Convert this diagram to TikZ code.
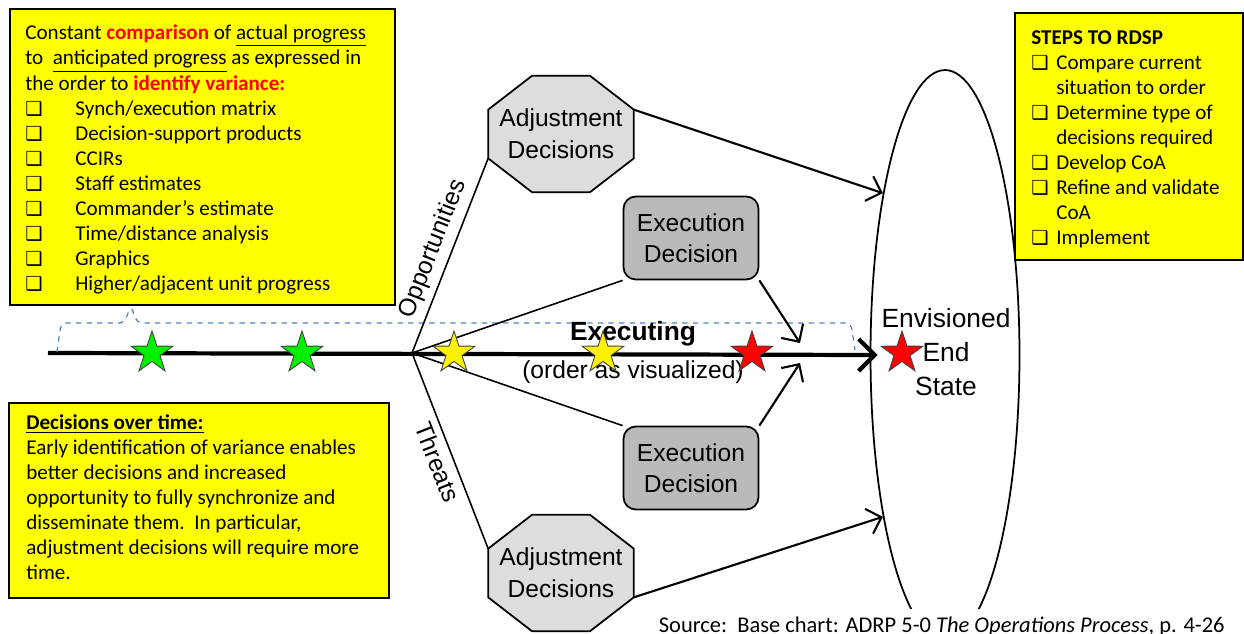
\documentclass[tikz,border=0pt]{standalone}
\usepackage{fontspec}
\setmainfont{Liberation Sans}
\newfontfamily\calibri{Carlito}
\newfontfamily\dingfont{DejaVu Sans}
\usepackage{xcolor}
\usetikzlibrary{shapes.geometric,arrows.meta,positioning,calc,backgrounds}

\definecolor{noteyellow}{RGB}{255,255,0}
\definecolor{bracketblue}{RGB}{79,129,189}
\definecolor{adjgray}{RGB}{221,221,221}
\definecolor{execgray}{RGB}{186,186,186}
\definecolor{stargreen}{RGB}{0,240,0}

% check boxes for the yellow notes
\newcommand{\chkbox}{{\dingfont\fontsize{11}{11}\selectfont ❑}}
\newcommand{\listitem}[1]{\makebox[1cm][l]{\chkbox}#1}
\newcommand{\stepitem}[1]{\makebox[0.5cm][l]{\chkbox}#1}

\begin{document}
\begin{tikzpicture}[x=0.02cm,y=-0.02cm,
  notebox/.style={draw,line width=1.4pt,fill=noteyellow,inner sep=0pt},
  notetext/.style={font=\calibri\fontsize{12}{14.3}\selectfont,align=left,inner sep=0pt,anchor=base west},
  adjnode/.style={minimum width=2.9cm,minimum height=2.32cm,inner sep=0pt,align=center,font=\fontsize{14}{18}\selectfont},
  execnode/.style={draw,line width=1pt,fill=execgray,rounded corners=7pt,minimum width=2.7cm,minimum height=1.66cm,inner sep=0pt,align=center,font=\fontsize{14}{17.6}\selectfont},
  endnode/.style={draw,ellipse,line width=1pt,minimum width=2.98cm,minimum height=11.4cm,inner sep=0pt},
  starnode/.style={star,star points=5,star point ratio=2.6,minimum size=0.88cm,inner sep=0pt,draw=black!75,line width=0.5pt},
  fanline/.style={line width=0.9pt},
  decarrow/.style={line width=1.2pt,-{Straight Barb[length=2.6mm,width=5.2mm]}},
  mainarrow/.style={line width=2.4pt,-{Straight Barb[length=3.2mm,width=6.4mm]},shorten >=-1.6mm},
  bracket/.style={bracketblue,dashed,line width=0.7pt,rounded corners=3pt}]

\useasboundingbox (0,0) rectangle (1244,634);

% decisions and end state
\node[adjnode] (adjU) at (561,134) {Adjustment\\Decisions};
\node[adjnode] (adjD) at (561,573) {Adjustment\\Decisions};
\node[execnode] (exU) at (691,238) {Execution\\Decision};
\node[execnode] (exD) at (691,468) {Execution\\Decision};
\node[endnode] (endstate) at (945,355) {};
\node[align=center,font=\fontsize{15}{19.3}\selectfont] (endtext) at (946,352) {Envisioned\\End\\State};

\begin{scope}[on background layer]
  \foreach \n in {adjU,adjD}
    \draw[line width=1pt,fill=adjgray] ($(\n.north west)+(44,0)$) -- ($(\n.north east)+(-44,0)$)
      -- ($(\n.north east)+(0,34)$) -- ($(\n.south east)+(0,-34)$)
      -- ($(\n.south east)+(-44,0)$) -- ($(\n.south west)+(44,0)$)
      -- ($(\n.south west)+(0,-34)$) -- ($(\n.north west)+(0,34)$) -- cycle;
\end{scope}

% timeline
\coordinate (tstart) at (48,353);
\coordinate (fan) at (412,353);
\coordinate (hitU) at (800,343);
\coordinate (hitD) at (800,363);
\draw[mainarrow] (tstart) -- (endstate.west);
\draw[bracket] (57,352) -- (61,323) -- (124,323) -- (131,306) -- (137,323) -- (851,323) -- (855,350);

\draw[fanline] (fan) -- ($(adjU.south west)+(0,-34)$)
  node[midway,sloped,above,font=\fontsize{14}{17}\selectfont] (opp) {Opportunities};
\draw[fanline] (fan) -- (exU.south west);
\draw[fanline] (fan) -- (exD.north west);
\draw[fanline] (fan) -- ($(adjD.north west)+(0,34)$)
  node[pos=0.53,sloped,below,font=\fontsize{14}{17}\selectfont] (thr) {Threats};

\draw[decarrow] ($(adjU.north east)+(0,34)$) -- (endstate.111);
\draw[decarrow] ($(adjD.south east)+(0,-34)$) -- (endstate.249);
\draw[decarrow] (exU.south east) -- (hitU);
\draw[decarrow] (exD.north east) -- (hitD);

\node[font=\bfseries\fontsize{15}{18}\selectfont] (executing) at (633,334) {Executing};
\node[font=\fontsize{14}{17}\selectfont] (order) at (633,372) {(order as visualized)};

\foreach \x/\c in {152/stargreen,302/stargreen,454/yellow,603/yellow,752/red,902/red}
  \node[starnode,fill=\c] (star\x) at (\x,353) {};

% notes
\node[notebox,minimum width=7.7cm,minimum height=5.92cm] (progressbox) at (202.5,157) {};
\node[notetext] (progresstext) at (25,291) {%
  Constant \textcolor{red}{\textbf{comparison}} of \underline{actual progress}\\
  to\ \ \underline{anticipated progress} as expressed in\\
  the order to \textcolor{red}{\textbf{identify variance:}}\\
  \listitem{Synch/execution matrix}\\
  \listitem{Decision-support products}\\
  \listitem{CCIRs}\\
  \listitem{Staff estimates}\\
  \listitem{Commander’s estimate}\\
  \listitem{Time/distance analysis}\\
  \listitem{Graphics}\\
  \listitem{Higher/adjacent unit progress}};

\node[notebox,minimum width=4.56cm,minimum height=4.94cm] (stepsbox) at (1129,136.5) {};
\node[notetext] (stepstext) at (1031,245) {%
  \textbf{STEPS TO RDSP}\\
  \stepitem{Compare current}\\
  \hspace*{0.5cm}situation to order\\
  \stepitem{Determine type of}\\
  \hspace*{0.5cm}decisions required\\
  \stepitem{Develop CoA}\\
  \stepitem{Refine and validate}\\
  \hspace*{0.5cm}CoA\\
  \stepitem{Implement}};

\node[notebox,minimum width=7.6cm,minimum height=3.9cm] (timebox) at (199,500.5) {};
\node[notetext] (timetext) at (26,580) {%
  \underline{\textbf{Decisions over time:}}\\
  Early identification of variance enables\\
  better decisions and increased\\
  opportunity to fully synchronize and\\
  disseminate them.\ \ In particular,\\
  adjustment decisions will require more\\
  time.};

\node[font=\calibri\fontsize{12.8}{15}\selectfont,anchor=base west,fill=white,inner xsep=2pt,inner ysep=4pt] (source) at (655,632)
  {Source:\ \ Base chart: ADRP 5-0 \textit{The Operations Process}, p. 4-26};
\end{tikzpicture}
\end{document}
